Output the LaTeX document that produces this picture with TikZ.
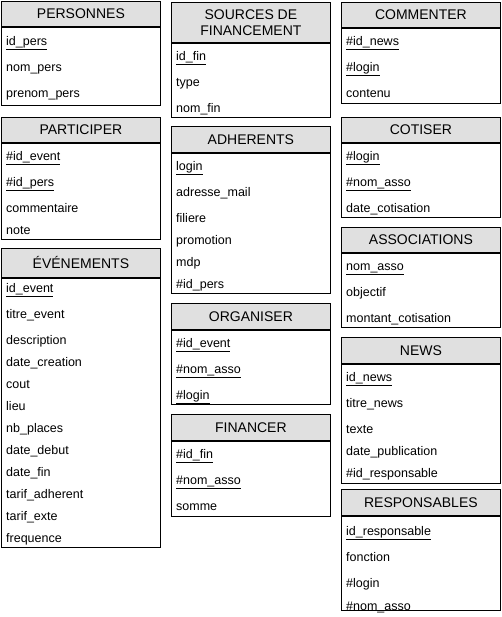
\documentclass[tikz,border=0pt]{standalone}
\usepackage{fontspec}
\setmainfont{Liberation Sans}
\usetikzlibrary{positioning}
\definecolor{gris1}{RGB}{224,224,224}

\begin{document}
\begin{tikzpicture}[x=1pt, y=-1pt,
    entete/.style={draw, fill=gris1, line width=0.8pt, anchor=north west, minimum width=159pt, inner sep=0pt, align=center, font=\fontsize{14}{16}\selectfont},
    corps/.style={draw, line width=0.8pt, anchor=north west, minimum width=159pt, inner sep=0pt},
    attr/.style={anchor=mid west, inner sep=0pt, yshift=-2pt, font=\fontsize{12.5}{14}\selectfont}
]
    \useasboundingbox (0,0) rectangle (502,617);

    % colonne 1
    \node[entete, minimum height=25pt] (personnes) at (1,1) {PERSONNES};
    \node[corps, minimum height=78pt] (personnes-b) at (personnes.south west) {};
    \foreach \a/\y [count=\i] in {{\underline{id\_pers}}/41, nom\_pers/67, prenom\_pers/93}
        \node[attr] (personnes-\i) at (6,\y) {\a};

    \node[entete, minimum height=25pt] (participer) at (1,117) {PARTICIPER};
    \node[corps, minimum height=96pt] (participer-b) at (participer.south west) {};
    \foreach \a/\y [count=\i] in {{\underline{\#id\_event}}/156, {\underline{\#id\_pers}}/182, commentaire/208, note/230}
        \node[attr] (participer-\i) at (6,\y) {\a};

    \node[entete, minimum height=29pt] (evenements) at (1,248) {ÉVÉNEMENTS};
    \node[corps, minimum height=269pt] (evenements-b) at (evenements.south west) {};
    \foreach \a/\y [count=\i] in {{\underline{id\_event}}/288, titre\_event/314, description/340, date\_creation/362,
        cout/384, lieu/406, nb\_places/428, date\_debut/450, date\_fin/472, tarif\_adherent/494, tarif\_exte/516, frequence/538}
        \node[attr] (evenements-\i) at (6,\y) {\a};

    % colonne 2
    \node[entete, minimum height=40pt] (sources) at (171,2) {SOURCES DE\\FINANCEMENT};
    \node[corps, minimum height=74pt] (sources-b) at (sources.south west) {};
    \foreach \a/\y [count=\i] in {{\underline{id\_fin}}/56, type/82, nom\_fin/108}
        \node[attr] (sources-\i) at (176,\y) {\a};

    \node[entete, minimum height=26pt] (adherents) at (171,126) {ADHERENTS};
    \node[corps, minimum height=140pt] (adherents-b) at (adherents.south west) {};
    \foreach \a/\y [count=\i] in {{\underline{login}}/166, adresse\_mail/192, filiere/218, promotion/240, mdp/262, \#id\_pers/284}
        \node[attr] (adherents-\i) at (176,\y) {\a};

    \node[entete, minimum height=26pt] (organiser) at (171,303) {ORGANISER};
    \node[corps, minimum height=74pt] (organiser-b) at (organiser.south west) {};
    \foreach \a/\y [count=\i] in {{\underline{\#id\_event}}/343, {\underline{\#nom\_asso}}/369, {\underline{\#login}}/395}
        \node[attr] (organiser-\i) at (176,\y) {\a};

    \node[entete, minimum height=26pt] (financer) at (171,414) {FINANCER};
    \node[corps, minimum height=75pt] (financer-b) at (financer.south west) {};
    \foreach \a/\y [count=\i] in {{\underline{\#id\_fin}}/454, {\underline{\#nom\_asso}}/480, somme/506}
        \node[attr] (financer-\i) at (176,\y) {\a};

    % colonne 3
    \node[entete, minimum height=25pt] (commenter) at (341,2) {COMMENTER};
    \node[corps, minimum height=75pt] (commenter-b) at (commenter.south west) {};
    \foreach \a/\y [count=\i] in {{\underline{\#id\_news}}/41, {\underline{\#login}}/67, contenu/93}
        \node[attr] (commenter-\i) at (346,\y) {\a};

    \node[entete, minimum height=25pt] (cotiser) at (341,117) {COTISER};
    \node[corps, minimum height=74pt] (cotiser-b) at (cotiser.south west) {};
    \foreach \a/\y [count=\i] in {{\underline{\#login}}/156, {\underline{\#nom\_asso}}/182, date\_cotisation/208}
        \node[attr] (cotiser-\i) at (346,\y) {\a};

    \node[entete, minimum height=25pt] (associations) at (341,227) {ASSOCIATIONS};
    \node[corps, minimum height=74pt] (associations-b) at (associations.south west) {};
    \foreach \a/\y [count=\i] in {{\underline{nom\_asso}}/266, objectif/292, montant\_cotisation/318}
        \node[attr] (associations-\i) at (346,\y) {\a};

    \node[entete, minimum height=26pt] (news) at (341,337) {NEWS};
    \node[corps, minimum height=119pt] (news-b) at (news.south west) {};
    \foreach \a/\y [count=\i] in {{\underline{id\_news}}/377, titre\_news/403, texte/429, date\_publication/451, \#id\_responsable/473}
        \node[attr] (news-\i) at (346,\y) {\a};

    \node[entete, minimum height=26pt] (responsables) at (341,489) {RESPONSABLES};
    \node[corps, minimum height=94pt] (responsables-b) at (responsables.south west) {};
    \foreach \a/\y [count=\i] in {{\underline{id\_responsable}}/531, fonction/557, \#login/583, \#nom\_asso/606}
        \node[attr] (responsables-\i) at (346,\y) {\a};

\end{tikzpicture}
\end{document}
